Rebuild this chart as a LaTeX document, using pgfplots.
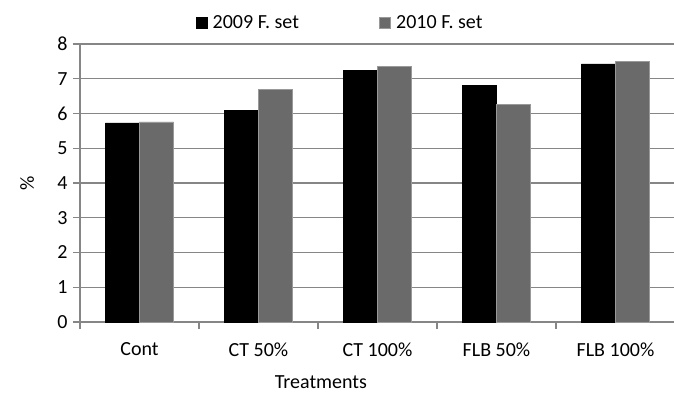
\documentclass[border=0pt]{standalone}
\usepackage{pgfplots}
\pgfplotsset{compat=1.18}
\usepackage{fontspec}
\setmainfont{Carlito}
\definecolor{bargray}{HTML}{6A6A6A}
\definecolor{gridgray}{HTML}{868686}
\begin{document}
\begin{tikzpicture}
\useasboundingbox (-80bp,-72bp) rectangle (594bp,322bp);
\begin{axis}[
  scale only axis,
  width=595bp, height=278bp,
  xmin=-0.5, xmax=4.5,
  ymin=0, ymax=8,
  ytick={0,1,...,8},
  xtick={-0.5,0.5,1.5,2.5,3.5,4.5},
  x tick label as interval,
  xticklabels={Cont,CT 50\%,CT 100\%,FLB 50\%,FLB 100\%},
  axis lines*=left,
  axis line style={gridgray, line width=1.2bp},
  ymajorgrids,
  grid style={gridgray, line width=1.2bp},
  tick style={gridgray, line width=1.2bp},
  tick align=outside,
  major tick length=7bp,
  font=\fontsize{20bp}{24bp}\selectfont,
  ticklabel style={font=\fontsize{20bp}{24bp}\selectfont},
  /pgf/number format/assume math mode=true,
  xticklabel style={yshift=-10bp},
  yticklabel style={xshift=-2bp},
  xlabel={Treatments},
  ylabel={\%},
  xlabel style={at={(axis description cs:0.405,0)}, anchor=center, yshift=-60bp},
  ylabel style={at={(axis description cs:-0.089,0.5)}, anchor=center},
  legend columns=2,
  legend style={draw=none, at={(axis description cs:0.437,1.077)}, anchor=center,
    font=\fontsize{20bp}{24bp}\selectfont,
    /tikz/every even column/.append style={column sep=78bp}},
  legend image code/.code={\fill[#1] (0bp,-5.5bp) rectangle (11bp,5.5bp); \path[draw=none,fill=none] (0bp,0bp) -- (15bp,0bp);},
  clip=false,
]
\addplot[ybar, bar width=0.286, bar shift=-0.143, fill=black, draw=black]
  coordinates {(0,5.73) (1,6.10) (2,7.25) (3,6.82) (4,7.43)};
\addlegendentry{2009 F. set}
\addplot[ybar, bar width=0.286, bar shift=0.143, fill=bargray, draw=gray!80]
  coordinates {(0,5.76) (1,6.70) (2,7.35) (3,6.27) (4,7.51)};
\addlegendentry{2010 F. set}
\end{axis}
\end{tikzpicture}
\end{document}
